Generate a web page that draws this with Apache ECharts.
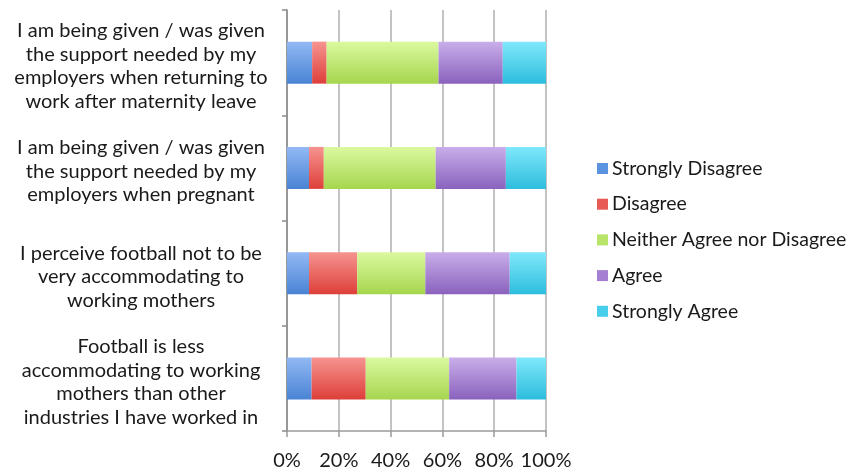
<!DOCTYPE html>
<html>
<head>
<meta charset="utf-8">
<script src="https://cdn.jsdelivr.net/npm/echarts@6/dist/echarts.min.js"></script>
<style>
  html, body { margin: 0; padding: 0; background: #fff; }
  #chart { width: 852px; height: 473px; }
</style>
</head>
<body>
<div id="chart"></div>
<script>
// Survey statements, listed top to bottom
const statements = [
  'I am being given / was given\nthe support needed by my\nemployers when returning to\nwork after maternity leave',
  'I am being given / was given\nthe support needed by my\nemployers when pregnant',
  'I perceive football not to be\nvery accommodating to\nworking mothers',
  'Football is less\naccommodating to working\nmothers than other\nindustries I have worked in'
];

// Share of responses (%) per statement
const stronglyDisagree = [9.7, 8.5, 8.5, 9.5];
const disagree         = [5.6, 5.7, 18.6, 20.9];
const neither          = [43.2, 43.2, 26.3, 32.2];
const agree            = [24.8, 27.1, 32.6, 26.0];
const stronglyAgree    = [16.7, 15.5, 14.0, 11.4];

const percentTicks = [0, 20, 40, 60, 80, 100];

const font = 'Lato, "Open Sans", sans-serif';

function grad(top, bottom) {
  return new echarts.graphic.LinearGradient(0, 0, 0, 1, [
    { offset: 0, color: top },
    { offset: 1, color: bottom }
  ]);
}

// Category labels: a thin spacer line on top nudges each centred block slightly down
function statementLabel(text) {
  return '{s| }\n' + text.split('\n').map(line => '{t|' + line + '}').join('\n');
}

const seriesDefs = [
  { name: 'Strongly Disagree', data: stronglyDisagree, top: '#92b9f4', bottom: '#4a83d4', flat: '#5b93e0' },
  { name: 'Disagree', data: disagree, top: '#f69490', bottom: '#de3f3a', flat: '#e85a55' },
  { name: 'Neither Agree nor Disagree', data: neither, top: '#dbf9a0', bottom: '#a6d64e', flat: '#b9e46a' },
  { name: 'Agree', data: agree, top: '#c9aeea', bottom: '#8a62bd', flat: '#a47fd2' },
  { name: 'Strongly Agree', data: stronglyAgree, top: '#80e8fb', bottom: '#2dbddd', flat: '#48cdea' }
];

const chart = echarts.init(document.getElementById('chart'), null, { renderer: 'canvas' });

chart.setOption({
  animation: false,
  backgroundColor: '#ffffff',
  textStyle: { fontFamily: font },
  grid: { left: 287, right: 306, top: 10, bottom: 42, containLabel: false },
  legend: {
    orient: 'vertical',
    left: 592,
    top: 152,
    itemWidth: 11,
    itemHeight: 11,
    itemGap: 12.7,
    icon: 'rect',
    textStyle: { fontFamily: font, fontSize: 19.5, lineHeight: 23, color: '#1a1a1a', padding: [0, 0, 0, -1] },
    data: seriesDefs.map(s => ({ name: s.name, itemStyle: { color: s.flat } }))
  },
  xAxis: {
    type: 'value',
    min: 0,
    max: 100,
    interval: 20,
    axisLine: { show: true, lineStyle: { color: '#9a9a9a', width: 1.5 } },
    axisTick: { show: true, length: 6, lineStyle: { color: '#9a9a9a', width: 1.5 } },
    splitLine: { show: true, lineStyle: { color: '#b4b4b4', width: 1.6 } },
    axisLabel: {
      margin: 20,
      fontFamily: font,
      fontSize: 20,
      color: '#1a1a1a',
      formatter: v => (percentTicks.indexOf(v) >= 0 ? v + '%' : '')
    }
  },
  yAxis: {
    type: 'category',
    inverse: true,
    data: statements,
    axisLine: { show: true, lineStyle: { color: '#8a8a8a', width: 1.5 } },
    axisTick: { show: true, length: 5, lineStyle: { color: '#8a8a8a', width: 1.5 } },
    axisLabel: {
      align: 'center',
      margin: 146,
      formatter: statementLabel,
      rich: {
        s: { fontSize: 2, lineHeight: 7 },
        t: { fontFamily: font, fontSize: 20, lineHeight: 23.5, color: '#1a1a1a', align: 'center' }
      }
    }
  },
  series: seriesDefs.map(s => ({
    name: s.name,
    type: 'bar',
    stack: 'total',
    barWidth: 42,
    data: s.data,
    itemStyle: { color: grad(s.top, s.bottom) },
    emphasis: { disabled: true }
  }))
});
</script>
</body>
</html>
